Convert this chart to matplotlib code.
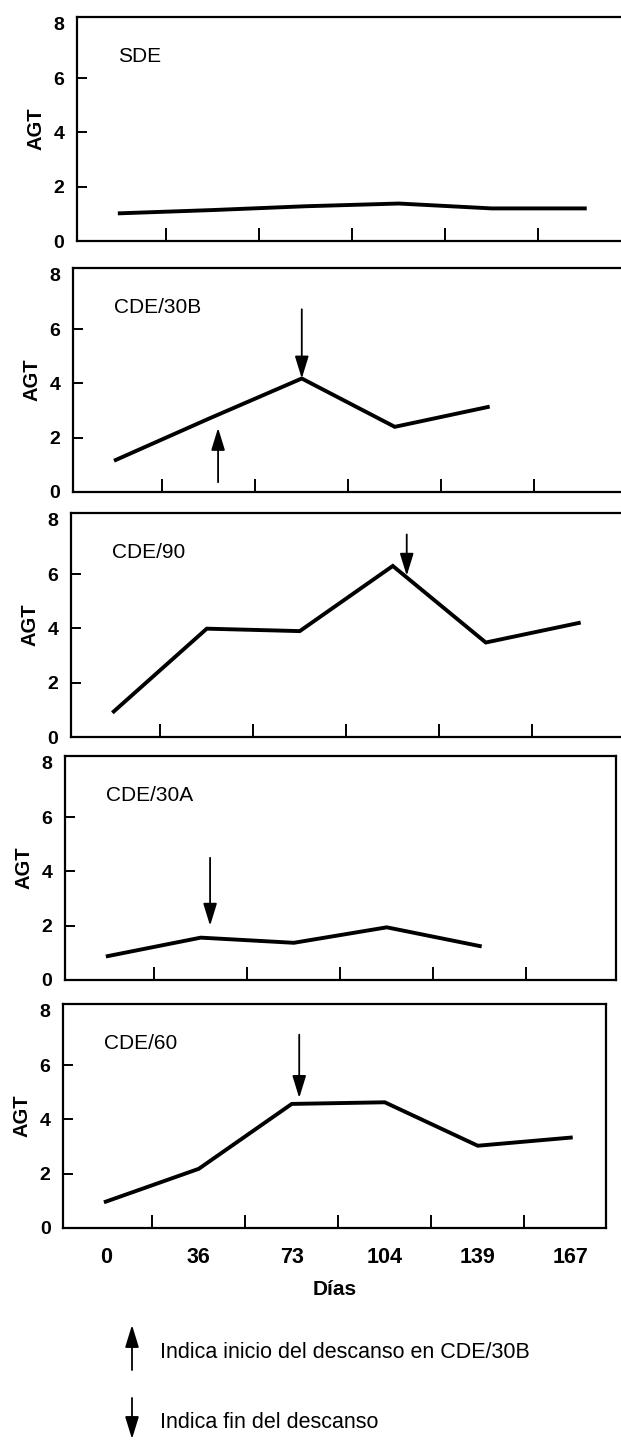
import matplotlib
matplotlib.use('Agg')
import matplotlib.pyplot as plt

plt.rcParams['font.family'] = ['Liberation Sans', 'DejaVu Sans']

# --- data ---
days = ['0', '36', '73', '104', '139', '167']
panel_names = ['SDE', 'CDE/30B', 'CDE/90', 'CDE/30A', 'CDE/60']
sde = [1.02, 1.14, 1.28, 1.38, 1.2, 1.2]
cde30b = [1.18, 2.7, 4.18, 2.4, 3.13]
cde90 = [0.94, 3.99, 3.9, 6.3, 3.48, 4.2]
cde30a = [0.88, 1.56, 1.37, 1.94, 1.25]
cde60 = [0.97, 2.18, 4.57, 4.63, 3.03, 3.33]
series = [sde, cde30b, cde90, cde30a, cde60]

# end-of-rest arrows (down): panel, x position, start, tip
down_panel = [1, 2, 3, 4]
down_x = [2.0, 3.15, 1.1, 2.08]
down_from = [6.73, 7.46, 4.5, 7.12]
down_to = [4.18, 5.94, 2.0, 4.79]
# start-of-rest arrow (up) in CDE/30B
up_x = 1.1
up_from = 0.36
up_to = 2.36

W, H = 621, 1441
fig = plt.figure(figsize=(W / 100, H / 100), dpi=100)

# panel geometry in pixels (scan is slightly skewed, so each panel differs a bit)
lefts = [77, 73, 71, 65, 63]
bottoms = [241, 492, 737, 980, 1228]
x_right = [5.6, 5.6, 5.6, 5.47, 5.38]
x_left = -0.46
unit = 93
ax_h = 224

arrow_style = '-|>,head_length=0.65,head_width=0.2'


def arrow(ax, xy, xytext, **kw):
    ax.annotate('', xy=xy, xytext=xytext,
                arrowprops=dict(arrowstyle=arrow_style, color='black', lw=1.3,
                                mutation_scale=21, shrinkA=0, shrinkB=0), **kw)


axes = []
for i, vals in enumerate(series):
    w = (x_right[i] - x_left) * unit
    ax = fig.add_axes([lefts[i] / W, 1 - bottoms[i] / H, w / W, ax_h / H])
    axes.append(ax)
    ax.plot(range(len(vals)), vals, color='black', lw=2.8, solid_joinstyle='miter')
    ax.set_xlim(x_left, x_right[i])
    ax.set_ylim(0, 8.25)
    for s in ax.spines.values():
        s.set_linewidth(1.6)

    # tick marks sit between the day labels
    ax.set_xticks([0.5, 1.5, 2.5, 3.5, 4.5])
    ax.set_xticklabels([])
    ax.tick_params(axis='x', which='major', direction='in', length=9.5, width=1.4)
    ax.set_yticks([0, 2, 4, 6, 8])
    ax.set_yticklabels(['0', '2', '4', '6', '8'], fontsize=14, fontweight='bold')
    ax.tick_params(axis='y', direction='in', length=7, width=1.4, pad=9)
    yt = ax.yaxis.get_major_ticks()
    yt[0].tick1line.set_visible(False)
    yt[-1].tick1line.set_visible(False)
    ax.set_ylabel('AGT', fontsize=14.5, fontweight='bold', labelpad=6)

    ax.text(-0.02, 6.8, panel_names[i], fontsize=15, ha='left', va='center')

# bottom panel carries the day labels
ax = axes[-1]
ax.set_xticks(range(len(days)), days, minor=True)
ax.tick_params(axis='x', which='minor', length=0, pad=14, labelsize=15.5)
for lab in ax.get_xticklabels(minor=True):
    lab.set_fontweight('bold')
ax.set_xlabel('Días', fontsize=15, fontweight='bold', labelpad=8)

for p, x, y0, y1 in zip(down_panel, down_x, down_from, down_to):
    arrow(axes[p], (x, y1), (x, y0))
arrow(axes[1], (up_x, up_to), (up_x, up_from))

# key below the chart
arrow(ax, (132 / W, 1 - 1325 / H), (132 / W, 1 - 1370 / H),
      xycoords='figure fraction', textcoords='figure fraction')
fig.text(160 / W, 1 - 1352 / H, 'Indica inicio del descanso en CDE/30B',
         fontsize=15.5, ha='left', va='center')
arrow(ax, (132 / W, 1 - 1439 / H), (132 / W, 1 - 1398 / H),
      xycoords='figure fraction', textcoords='figure fraction')
fig.text(160 / W, 1 - 1422 / H, 'Indica fin del descanso',
         fontsize=15.5, ha='left', va='center')

fig.savefig('out.png', dpi=100)
